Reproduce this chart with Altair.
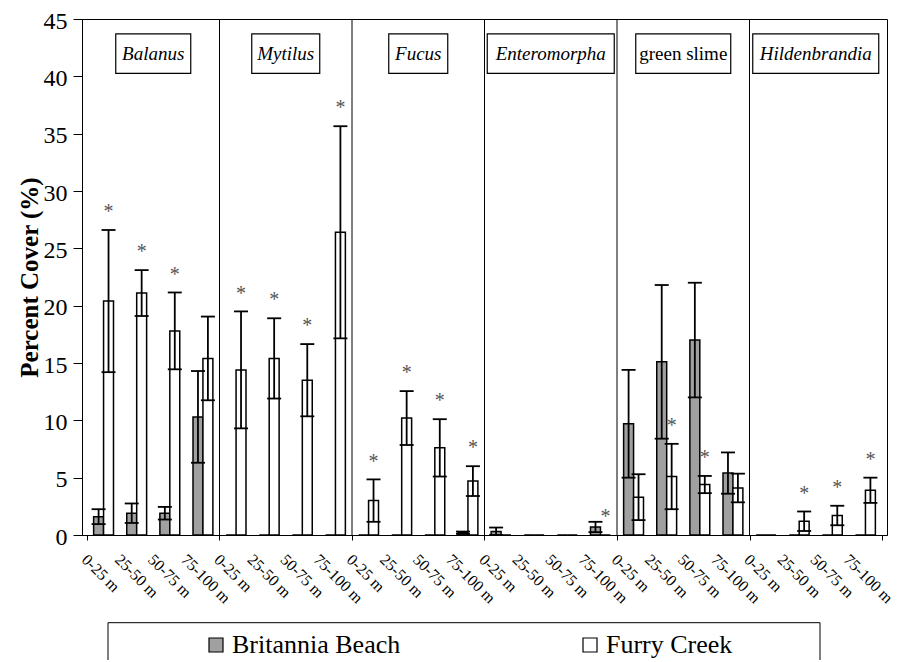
import altair as alt
import pandas as pd

# ---------------- data ----------------
groups = ["Balanus", "Mytilus", "Fucus", "Enteromorpha", "green slime", "Hildenbrandia"]
group_italic = [True, True, True, True, False, True]
distances = ["0-25 m", "25-50 m", "50-75 m", "75-100 m"]
series = ["Britannia Beach", "Furry Creek"]

# one entry per group x distance (group-major order)
bb_mean = [1.6, 1.9, 1.9, 10.3,   0, 0, 0, 0,   0, 0, 0, 0.2,   0.3, 0, 0, 0.7,
           9.7, 15.1, 17.0, 5.4,   0, 0, 0, 0]
bb_err = [0.65, 0.85, 0.55, 4.0,   0, 0, 0, 0,   0, 0, 0, 0.1,   0.35, 0, 0, 0.45,
          4.7, 6.7, 5.0, 1.8,   0, 0, 0, 0]
fc_mean = [20.4, 21.1, 17.8, 15.4,   14.4, 15.4, 13.5, 26.4,   3.0, 10.2, 7.6, 4.7,
           0, 0, 0, 0,   3.3, 5.1, 4.4, 4.1,   0, 1.2, 1.7, 3.9]
fc_err = [6.2, 2.0, 3.35, 3.65,   5.1, 3.5, 3.15, 9.25,   1.85, 2.35, 2.5, 1.3,
          0, 0, 0, 0,   2.0, 2.85, 0.75, 1.25,   0, 0.85, 0.85, 1.1]
significant = [1, 1, 1, 0,   1, 1, 1, 1,   1, 1, 1, 1,   0, 0, 0, 1,
               0, 1, 1, 0,   0, 1, 1, 1]

y_ticks = [0, 5, 10, 15, 20, 25, 30, 35, 40, 45]

# ---------------- style ----------------
FONT = "Liberation Serif"
W, H = 805, 516
BAR_W = 0.3          # bar width in category units
box_px = [75, 68, 59, 127, 95, 126]   # label box widths (px)
BOX_LO, BOX_HI, BOX_TXT = 40.25, 43.7, 41.95
STAR_GAP = 1.9
GREY = "#a0a0a0"

# ---------------- tables ----------------
bars, errs, caps, stars = [], [], [], []
for gi, g in enumerate(groups):
    for di, d in enumerate(distances):
        i = gi * 4 + di
        c = i + 0.5
        for s, m, e, x0, x1 in [
            (series[0], bb_mean[i], bb_err[i], c - BAR_W, c),
            (series[1], fc_mean[i], fc_err[i], c, c + BAR_W),
        ]:
            xc = (x0 + x1) / 2
            bars.append({"series": s, "x0": x0, "x1": x1, "mean": m, "zero": 0})
            if e > 0:
                lo, hi = max(m - e, 0), m + e
                errs.append({"xc": xc, "lo": lo, "hi": hi})
                caps.append({"xc": xc, "v": lo})
                caps.append({"xc": xc, "v": hi})
        if significant[i]:
            stars.append({"xc": c + BAR_W / 2, "y": fc_mean[i] + fc_err[i] + STAR_GAP})

bar_df = pd.DataFrame(bars)
err_df = pd.DataFrame(errs)
cap_df = pd.DataFrame(caps)
star_df = pd.DataFrame(stars)
div_df = pd.DataFrame({"pos": [4 * k for k in range(1, len(groups))]})
box_df = pd.DataFrame({
    "gc": [4 * k + 2 for k in range(len(groups))],
    "label": groups,
    "italic": group_italic,
    "w": box_px,
    "y0": BOX_LO, "y1": BOX_HI, "ty": BOX_TXT,
})

n = len(groups) * len(distances)
tick_vals = [float(4 * k) for k in range(len(groups) + 1)] + [i + 0.5 for i in range(n)]
dist_js = "[" + ",".join("'" + d + "'" for d in distances) + "]"
label_expr = f"datum.value % 1 == 0.5 ? {dist_js}[floor(datum.value) % 4] : ''"

xscale = alt.Scale(domain=[0, n], nice=False, zero=False)
yscale = alt.Scale(domain=[0, 45], nice=False)

xaxis = alt.Axis(
    values=tick_vals, labelExpr=label_expr, title=None, grid=False,
    labelAngle=45, labelAlign="left", labelBaseline="top",
    labelFont=FONT, labelFontSize=16, labelColor="black",
    labelOffset=-14, labelPadding=11, tickSize=5, tickColor="black",
    tickOpacity={"condition": {"test": "datum.value % 1 == 0", "value": 1}, "value": 0},
    labelOverlap=False, labelFlush=False, labelBound=False,
    domainColor="black",
)
yaxis = alt.Axis(
    values=y_ticks, grid=False, title="Percent Cover (%)",
    titleFont=FONT, titleFontSize=25, titleFontWeight="bold", titleColor="black",
    titlePadding=1, labelFont=FONT, labelFontSize=24, labelColor="black",
    tickSize=9, tickColor="black", labelPadding=6, labelOffset=2,
    domainColor="black",
)

bar_layer = alt.Chart(bar_df).mark_bar(stroke="black", strokeWidth=1.5).encode(
    x=alt.X("x0:Q", scale=xscale, axis=xaxis),
    x2="x1:Q",
    y=alt.Y("mean:Q", scale=yscale, axis=yaxis),
    y2="zero:Q",
    fill=alt.Fill(
        "series:N",
        scale=alt.Scale(domain=series, range=[GREY, "white"]),
        legend=alt.Legend(
            title=None, orient="none", legendX=121, legendY=613,
            direction="horizontal", symbolType="square", symbolSize=196,
            symbolStrokeColor="black", symbolStrokeWidth=1.2,
            labelFont=FONT, labelFontSize=26, labelColor="black",
            labelOffset=3, columnPadding=176, labelLimit=400,
        ),
    ),
)

err_layer = alt.Chart(err_df).mark_rule(color="black", strokeWidth=1.8).encode(
    x=alt.X("xc:Q", axis=xaxis), y=alt.Y("lo:Q", axis=yaxis), y2="hi:Q"
)
cap_layer = alt.Chart(cap_df).mark_tick(
    orient="horizontal", size=14, thickness=1.8, color="black", opacity=1
).encode(x=alt.X("xc:Q", axis=xaxis), y=alt.Y("v:Q", axis=yaxis))

div_layer = alt.Chart(div_df).mark_rule(color="black", strokeWidth=1).encode(
    x=alt.X("pos:Q", axis=xaxis)
)

box_layer = alt.Chart(box_df).mark_bar(fill="white", stroke="black", strokeWidth=1.2).encode(
    x=alt.X("gc:Q", axis=xaxis), y=alt.Y("y0:Q", axis=yaxis), y2="y1:Q",
    size=alt.Size("w:Q", scale=None, legend=None),
)
txt_it = alt.Chart(box_df).transform_filter("datum.italic").mark_text(
    font=FONT, fontSize=19, fontStyle="italic", color="black", baseline="middle"
).encode(x=alt.X("gc:Q", axis=xaxis), y=alt.Y("ty:Q", axis=yaxis), text="label:N")
txt_rm = alt.Chart(box_df).transform_filter("!datum.italic").mark_text(
    font=FONT, fontSize=19, color="black", baseline="middle"
).encode(x=alt.X("gc:Q", axis=xaxis), y=alt.Y("ty:Q", axis=yaxis), text="label:N")

star_layer = alt.Chart(star_df).mark_text(
    text="*", font=FONT, fontSize=20, color="#555555", baseline="middle", dy=4
).encode(x=alt.X("xc:Q", axis=xaxis), y=alt.Y("y:Q", axis=yaxis))

legend_box = alt.Chart(pd.DataFrame({"a": [0]})).mark_rect(
    fillOpacity=0, stroke="black", strokeWidth=1
).encode(
    x=alt.value(26), x2=alt.value(738), y=alt.value(603.7), y2=alt.value(700)
)

chart = alt.layer(
    bar_layer, err_layer, cap_layer, div_layer, box_layer, txt_it, txt_rm,
    star_layer, legend_box,
).properties(
    width=W, height=H,
    autosize=alt.AutoSizeParams(type="none"),
    padding={"left": 74, "top": 11, "right": 8, "bottom": 125},
).configure_view(stroke="black", strokeWidth=1)

chart.save("out.html", embed_options={"renderer": "svg", "actions": False})
